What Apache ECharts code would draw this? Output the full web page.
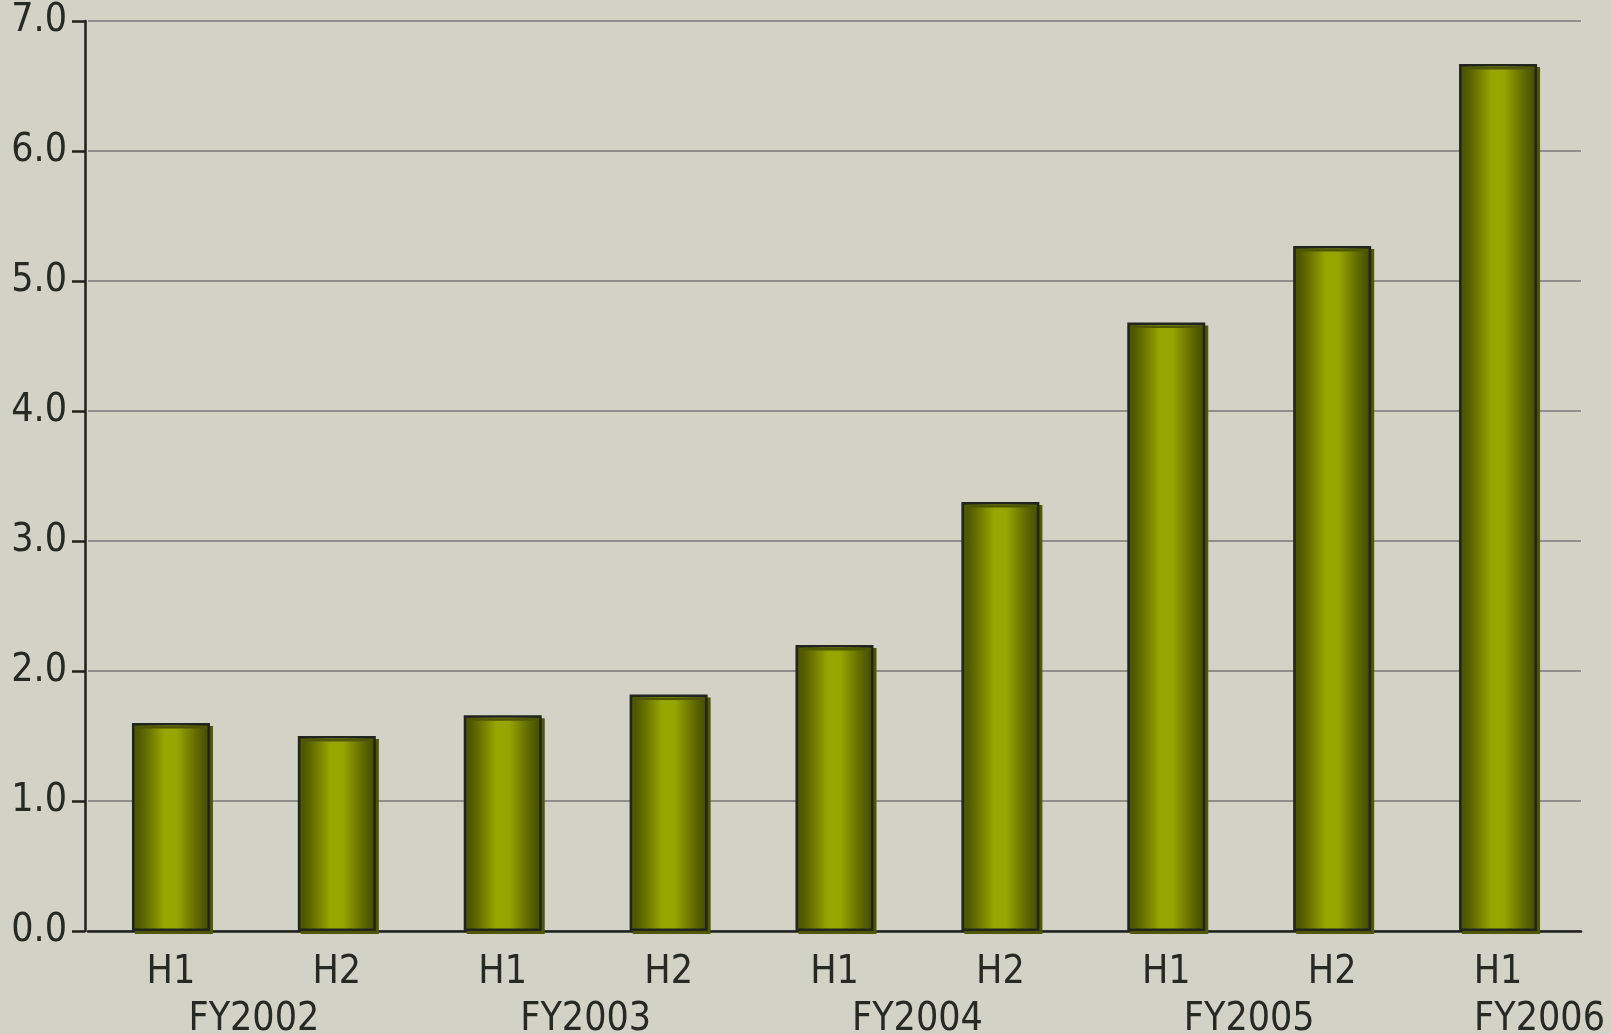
<!DOCTYPE html>
<html><head><meta charset="utf-8">
<script src="https://cdn.jsdelivr.net/npm/echarts@6/dist/echarts.min.js"></script>
<style>html,body{margin:0;padding:0;background:#d2d2c7}#c{width:1611px;height:1034px}</style>
</head><body><div id="c"></div>
<script>
var halfLabels = ['H1','H2','H1','H2','H1','H2','H1','H2','H1'];
var values = [1.60, 1.50, 1.66, 1.82, 2.20, 3.30, 4.68, 5.27, 6.67];
var fyLabels = ['FY2002','FY2003','FY2004','FY2005','FY2006'];
// position of each FY label in category units (bar i centred at i+0.5)
var fyPositions = [1, 3, 5, 7, 8.75];
var yTicks = [0,1,2,3,4,5,6,7];

var FONT = "'Liberation Sans Narrow','DejaVu Sans Condensed','Liberation Sans',sans-serif";
var TXT = '#262a22';
var fySlots = [];
for (var q = 0; q <= 36; q++) fySlots.push('');
fyPositions.forEach(function(p, i){ fySlots[Math.round(p*4)] = fyLabels[i]; });

var chart = echarts.init(document.getElementById('c'));
chart.setOption({
  backgroundColor: '#d2d2c7',
  animation: false,
  grid: {left: 88, right: 30, top: 21, bottom: 103, containLabel: false, outerBoundsMode: 'none'},
  xAxis: [{
    type: 'category', data: halfLabels, position: 'bottom',
    axisLine: {lineStyle: {color: '#1e211b', width: 2.5}},
    axisTick: {show: false},
    axisLabel: {color: TXT, fontFamily: FONT, fontSize: 39, margin: 22, interval: 0}
  },{
    type: 'category', data: fySlots, boundaryGap: false, position: 'bottom',
    axisLine: {show: false}, axisTick: {show: false}, splitLine: {show: false},
    axisLabel: {color: TXT, fontFamily: FONT, fontSize: 39, margin: 69, interval: 0}
  }],
  yAxis: {
    type: 'value', min: yTicks[0], max: yTicks[yTicks.length-1], interval: 1, offset: 3,
    axisLine: {show: true, lineStyle: {color: '#1e211b', width: 2.5}},
    axisTick: {show: true, length: 13, lineStyle: {color: '#1e211b', width: 2.5}},
    splitLine: {lineStyle: {color: '#8e8e8a', width: 2}},
    axisLabel: {color: TXT, fontFamily: FONT, fontSize: 39, margin: 18,
      formatter: function(v){ return v.toFixed(1); }}
  },
  series: [{
    type: 'bar', data: values, barWidth: 78, xAxisIndex: 0,
    itemStyle: {
      color: {type: 'linear', x: 0, y: 0, x2: 1, y2: 0, colorStops: [
        {offset: 0, color: '#414800'},
        {offset: 0.18, color: '#636c00'},
        {offset: 0.42, color: '#98a700'},
        {offset: 0.58, color: '#96a500'},
        {offset: 0.82, color: '#636c00'},
        {offset: 1, color: '#414800'}
      ]},
      borderColor: '#22251e', borderWidth: 2.5,
      shadowColor: '#4f5700', shadowOffsetX: 3, shadowOffsetY: 3, shadowBlur: 0
    }
  }]
});
</script></body></html>
